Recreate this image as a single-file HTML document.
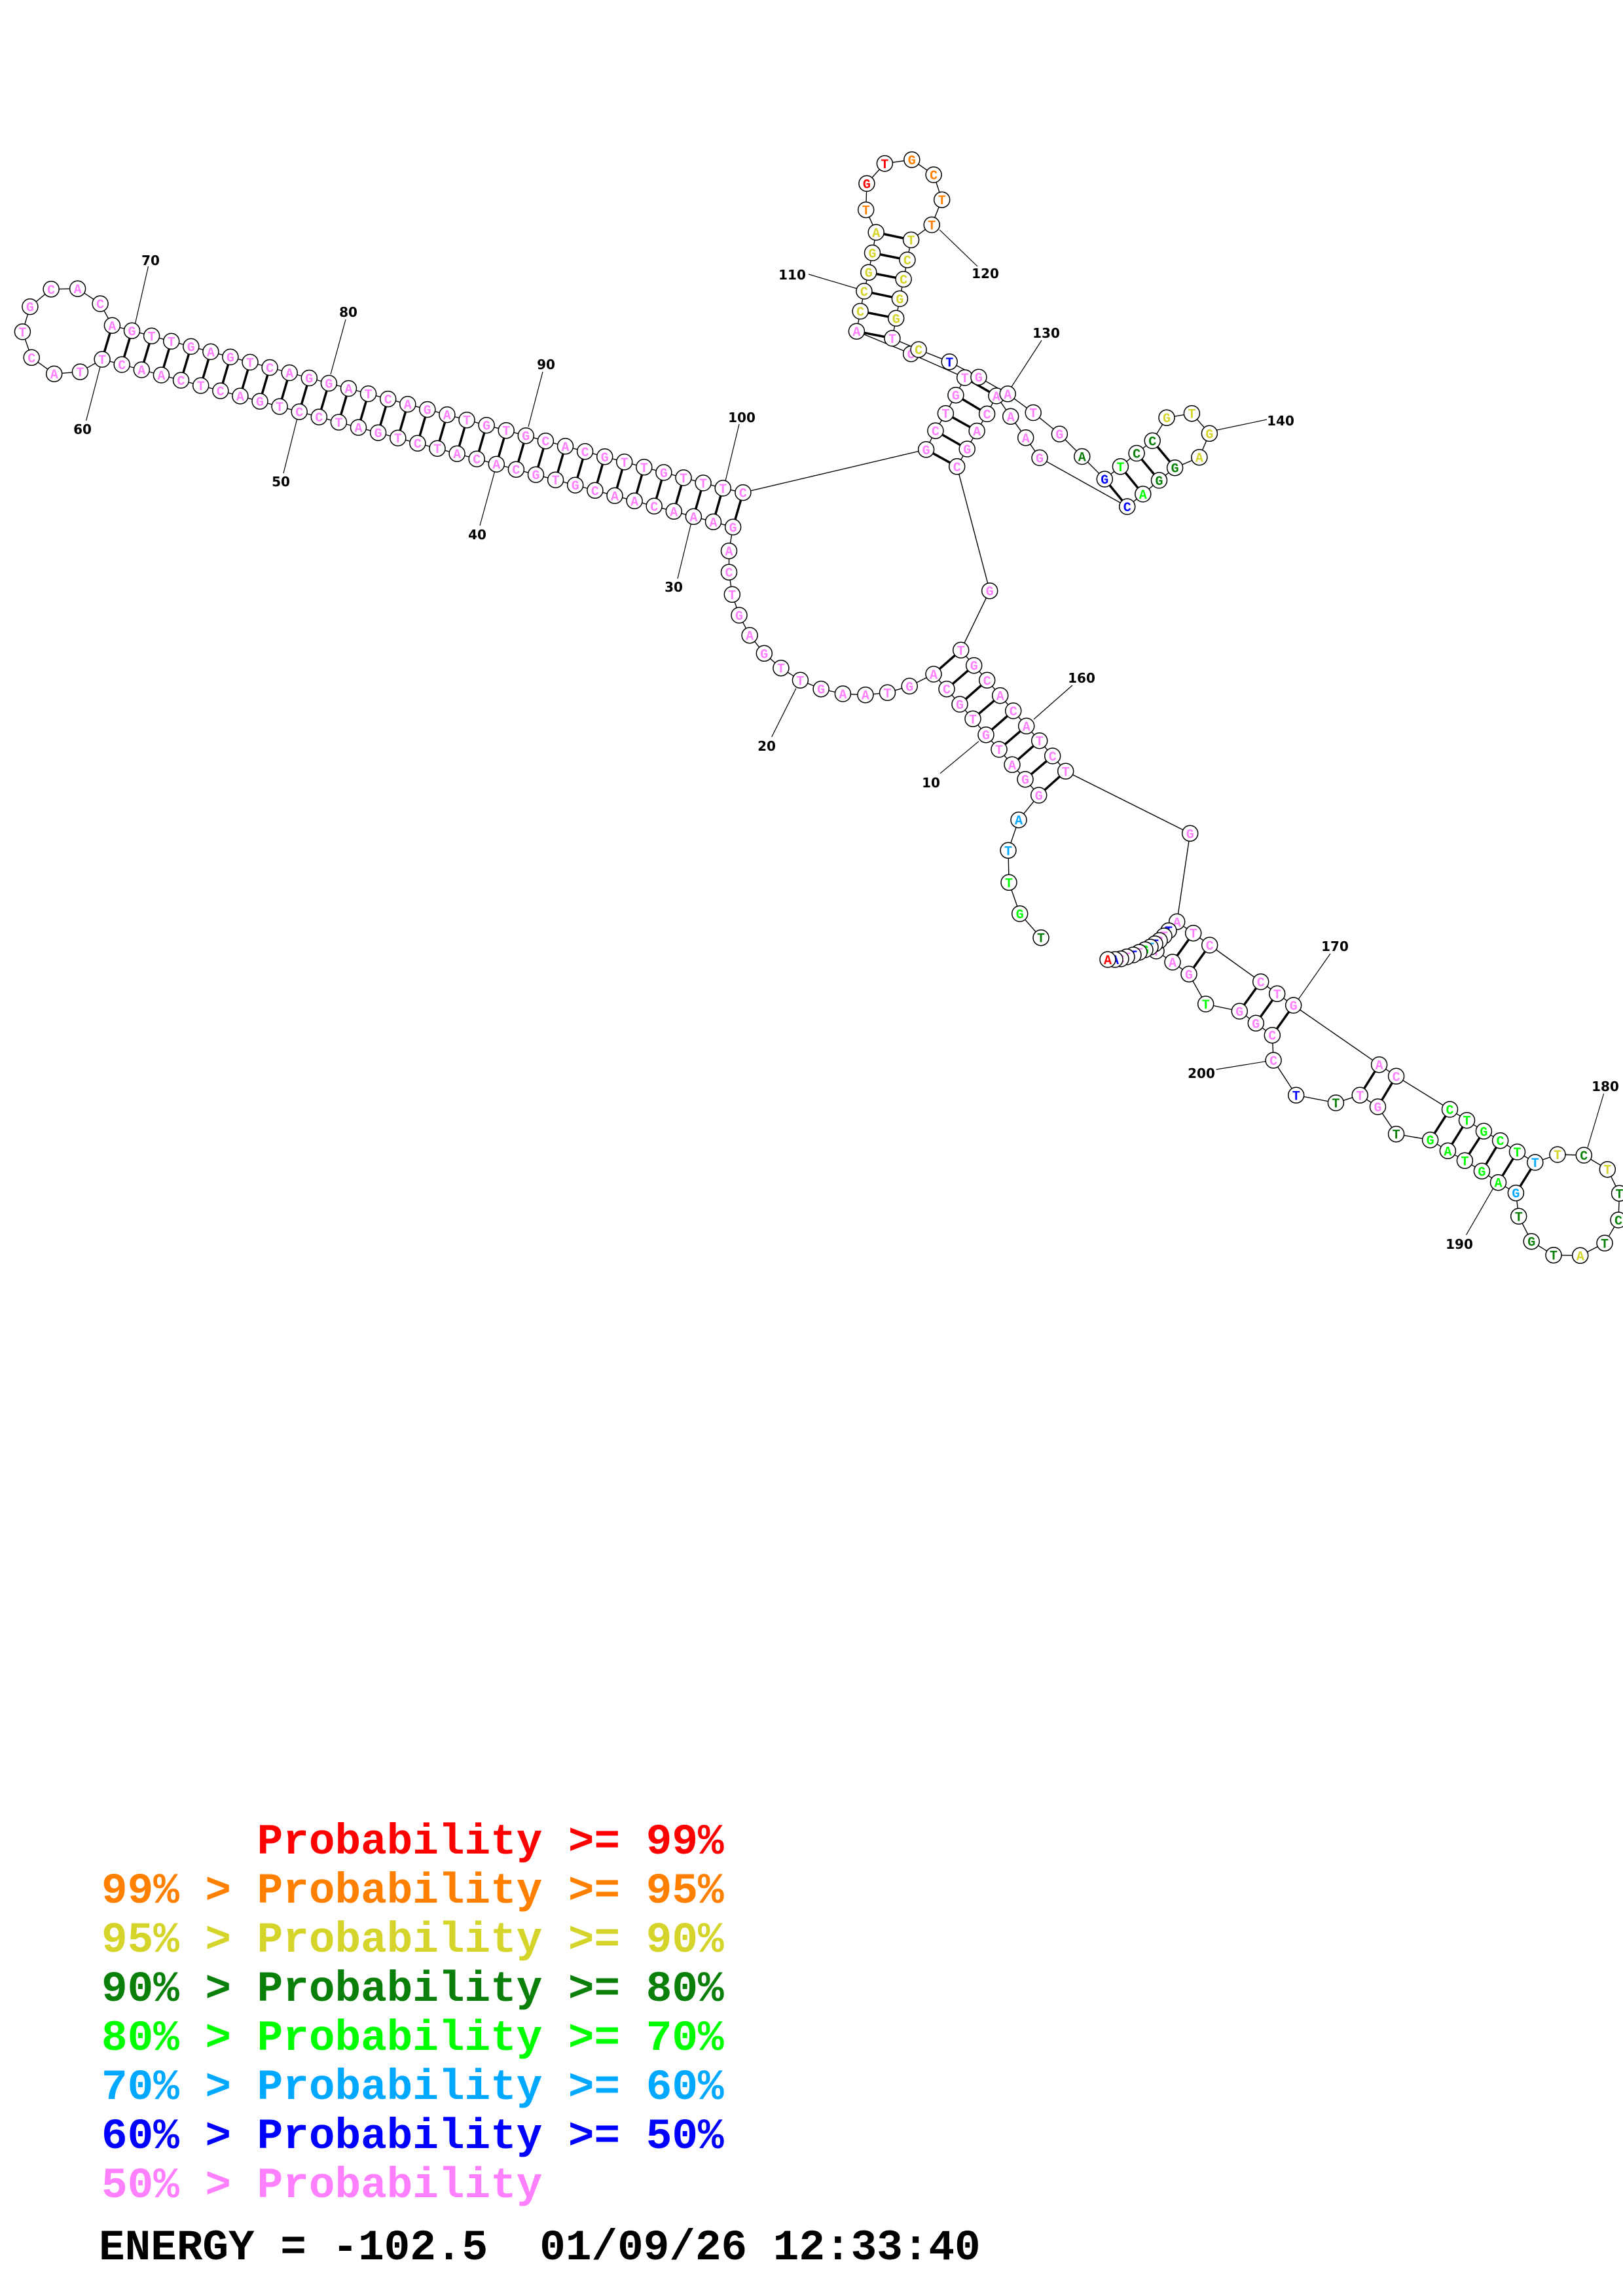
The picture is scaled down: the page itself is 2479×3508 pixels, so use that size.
<!DOCTYPE html>
<html><head><meta charset="utf-8"><style>
html,body{margin:0;padding:0;background:#fff}
svg{display:block}
.n circle{fill:#fff;stroke:#000;stroke-width:1.5}
.n text{font-family:"Liberation Mono",monospace;font-weight:bold;font-size:20px;text-anchor:middle}
.p text{fill:#ff80ff}.y text{fill:#d4d42a}.o text{fill:#ff8000}.r text{fill:#ff0000}
.g text{fill:#0a800a}.l text{fill:#00ff00}.c text{fill:#00a8ff}.b text{fill:#0000ff}
.lab{font-family:"DejaVu Sans",sans-serif;font-weight:bold;font-size:20px;text-anchor:middle}
.leg{font-family:"Liberation Mono",monospace;font-weight:bold;font-size:66px}
</style></head><body>
<svg width="2479" height="3508" viewBox="0 0 2479 3508" xmlns="http://www.w3.org/2000/svg">
<rect width="2479" height="3508" fill="#fff"/>
<polyline fill="none" stroke="#000" stroke-width="1.4" points="1590,1432.7 1557.7,1396 1541,1348.3 1540,1299.3 1556,1252.7 1586.7,1215 1566,1190.7 1546,1168.3 1526,1145 1506,1122.7 1486,1098.3 1466,1076 1446,1052.7 1426,1030 1389.2,1048.3 1355.5,1058.3 1321.9,1061.7 1287.4,1060 1254.1,1052.7 1222.4,1039.3 1192.9,1020.7 1167.3,998.3 1145.1,970.7 1129,940 1118.3,908.3 1113.5,874.2 1113.5,841.7 1119.6,805.3 1089.5,797.3 1059.4,789.3 1029.3,781.3 999.2,773.3 969.1,765.3 939,757.3 908.9,749.3 878.7,741.2 848.6,733.2 818.5,725.2 788.4,717.2 758.3,709.2 728.2,701.2 698.1,693.2 668,685.2 637.9,677.2 607.8,669.2 577.6,661.1 547.5,653.1 517.4,645.1 487.3,637.1 457.2,629.1 427.1,621.1 397,613.1 366.9,605.1 336.8,597.1 306.7,589.1 276.5,581 246.4,573 216.3,565 186.2,557 156.1,549 122.4,568.1 82.7,571.2 48.2,546.3 34.4,506.9 45.9,468.6 78.1,441.8 118.6,441.1 153.1,464 171.4,497.3 201.5,505.3 231.6,513.3 261.7,521.4 291.8,529.4 321.9,537.4 351.9,545.4 382,553.4 412.1,561.5 442.2,569.5 472.3,577.5 502.4,585.5 532.5,593.5 562.6,601.6 592.7,609.6 622.8,617.6 652.8,625.6 682.9,633.6 713,641.7 743.1,649.7 773.2,657.7 803.3,665.7 833.4,673.7 863.5,681.8 893.6,689.8 923.7,697.8 953.7,705.8 983.8,713.8 1013.9,721.9 1044,729.9 1074.1,737.9 1104.2,745.9 1134.9,752.6 1414.6,686.8 1428.9,658.1 1444.4,631.7 1459.9,603.7 1473.7,577 1391.6,540.6 1308.4,506.2 1314.1,475.5 1319.9,444.9 1326.8,416.2 1332.5,386.4 1338.2,355 1322.7,320.6 1323.9,280.4 1351.4,249.8 1392.8,244 1426.1,267 1438.7,305.2 1423.2,343.5 1391.6,366.5 1385.9,397.1 1380.1,426.6 1374.4,456.4 1368.7,486.3 1362.9,516.9 1403.1,534.1 1450.2,552.8 1494.9,576.2 1539.2,601.8 1578.2,630.5 1618.4,663.1 1652.8,697.5 1687.3,732 1711.4,712.8 1736.1,692.5 1760.2,673.4 1782,638.2 1820.4,631.7 1847.4,662.3 1831.9,698.7 1794.6,714.7 1770.5,733.9 1745.8,754.9 1721.7,774 1588,699.4 1566.7,668.8 1543.7,636.3 1521.9,604.9 1507.6,632.4 1492.1,658.5 1477.2,686 1461.7,712.8 1511.7,902.7 1467.7,993.3 1487.7,1016.7 1507.7,1039.3 1527.7,1062.7 1547.7,1086 1567.7,1109.3 1587.7,1131.7 1607.7,1155 1627.7,1178.3 1817.7,1273.3 1797.7,1408.3 1822.7,1425.7 1847.7,1444 1925.7,1500 1950.7,1518.3 1975.7,1536 2106.6,1626.7 2132.6,1644.3 2214.5,1695 2240.5,1711.7 2266.4,1728.3 2291.6,1742.7 2317.5,1760 2344.8,1776 2379,1764 2419.3,1765 2455.3,1786.7 2473.5,1823.3 2472,1864 2451,1899.3 2413.7,1918.3 2373,1917.7 2339.2,1896.7 2319.7,1858.3 2315.4,1822.7 2288.5,1806.7 2263.4,1789.3 2237.4,1773.3 2211.4,1758.3 2184.6,1741.7 2132.6,1732.7 2104.5,1691 2077.2,1673.3 2040.4,1685 1979.7,1673.3 1945.1,1620 1943.3,1581.7 1918.3,1563.3 1893.3,1545 1841.7,1534 1816,1488.3 1791,1470 1766,1453 1785,1422 1778,1430 1771,1437 1764,1442 1757,1447 1749,1451 1740,1455 1731,1459 1721,1462 1712,1465 1703,1466 1692,1466"/>
<g stroke="#000" stroke-width="3.5">
<line x1="171.4" y1="497.3" x2="156.1" y2="549"/><line x1="201.5" y1="505.3" x2="186.2" y2="557"/><line x1="231.6" y1="513.3" x2="216.3" y2="565"/><line x1="261.7" y1="521.4" x2="246.4" y2="573"/><line x1="291.8" y1="529.4" x2="276.5" y2="581"/><line x1="321.9" y1="537.4" x2="306.7" y2="589.1"/><line x1="351.9" y1="545.4" x2="336.8" y2="597.1"/><line x1="382" y1="553.4" x2="366.9" y2="605.1"/><line x1="412.1" y1="561.5" x2="397" y2="613.1"/><line x1="442.2" y1="569.5" x2="427.1" y2="621.1"/><line x1="472.3" y1="577.5" x2="457.2" y2="629.1"/><line x1="502.4" y1="585.5" x2="487.3" y2="637.1"/><line x1="532.5" y1="593.5" x2="517.4" y2="645.1"/><line x1="562.6" y1="601.6" x2="547.5" y2="653.1"/><line x1="592.7" y1="609.6" x2="577.6" y2="661.1"/><line x1="622.8" y1="617.6" x2="607.8" y2="669.2"/><line x1="652.8" y1="625.6" x2="637.9" y2="677.2"/><line x1="682.9" y1="633.6" x2="668" y2="685.2"/><line x1="713" y1="641.7" x2="698.1" y2="693.2"/><line x1="743.1" y1="649.7" x2="728.2" y2="701.2"/><line x1="773.2" y1="657.7" x2="758.3" y2="709.2"/><line x1="803.3" y1="665.7" x2="788.4" y2="717.2"/><line x1="833.4" y1="673.7" x2="818.5" y2="725.2"/><line x1="863.5" y1="681.8" x2="848.6" y2="733.2"/><line x1="893.6" y1="689.8" x2="878.7" y2="741.2"/><line x1="923.7" y1="697.8" x2="908.9" y2="749.3"/><line x1="953.7" y1="705.8" x2="939" y2="757.3"/><line x1="983.8" y1="713.8" x2="969.1" y2="765.3"/><line x1="1013.9" y1="721.9" x2="999.2" y2="773.3"/><line x1="1044" y1="729.9" x2="1029.3" y2="781.3"/><line x1="1074.1" y1="737.9" x2="1059.4" y2="789.3"/><line x1="1104.2" y1="745.9" x2="1089.5" y2="797.3"/><line x1="1134.9" y1="752.6" x2="1119.6" y2="805.3"/>
<line x1="1586.7" y1="1215" x2="1627.7" y2="1178.3"/><line x1="1566" y1="1190.7" x2="1607.7" y2="1155"/><line x1="1546" y1="1168.3" x2="1587.7" y2="1131.7"/><line x1="1526" y1="1145" x2="1567.7" y2="1109.3"/><line x1="1506" y1="1122.7" x2="1547.7" y2="1086"/><line x1="1486" y1="1098.3" x2="1527.7" y2="1062.7"/><line x1="1466" y1="1076" x2="1507.7" y2="1039.3"/><line x1="1446" y1="1052.7" x2="1487.7" y2="1016.7"/><line x1="1426" y1="1030" x2="1467.7" y2="993.3"/>
<line x1="1414.6" y1="686.8" x2="1461.7" y2="712.8"/><line x1="1428.9" y1="658.1" x2="1477.2" y2="686"/><line x1="1444.4" y1="631.7" x2="1492.1" y2="658.5"/><line x1="1459.9" y1="603.7" x2="1507.6" y2="632.4"/><line x1="1473.7" y1="577" x2="1521.9" y2="604.9"/>
<line x1="1308.4" y1="506.2" x2="1362.9" y2="516.9"/><line x1="1314.1" y1="475.5" x2="1368.7" y2="486.3"/><line x1="1319.9" y1="444.9" x2="1374.4" y2="456.4"/><line x1="1326.8" y1="416.2" x2="1380.1" y2="426.6"/><line x1="1332.5" y1="386.4" x2="1385.9" y2="397.1"/><line x1="1338.2" y1="355" x2="1391.6" y2="366.5"/>
<line x1="1687.3" y1="732" x2="1721.7" y2="774"/><line x1="1711.4" y1="712.8" x2="1745.8" y2="754.9"/><line x1="1736.1" y1="692.5" x2="1770.5" y2="733.9"/><line x1="1760.2" y1="673.4" x2="1794.6" y2="714.7"/>
<line x1="1822.7" y1="1425.7" x2="1791" y2="1470"/><line x1="1847.7" y1="1444" x2="1816" y2="1488.3"/><line x1="1925.7" y1="1500" x2="1893.3" y2="1545"/><line x1="1950.7" y1="1518.3" x2="1918.3" y2="1563.3"/><line x1="1975.7" y1="1536" x2="1943.3" y2="1581.7"/><line x1="2106.6" y1="1626.7" x2="2077.2" y2="1673.3"/><line x1="2132.6" y1="1644.3" x2="2104.5" y2="1691"/><line x1="2214.5" y1="1695" x2="2184.6" y2="1741.7"/><line x1="2240.5" y1="1711.7" x2="2211.4" y2="1758.3"/><line x1="2266.4" y1="1728.3" x2="2237.4" y2="1773.3"/><line x1="2291.6" y1="1742.7" x2="2263.4" y2="1789.3"/><line x1="2317.5" y1="1760" x2="2288.5" y2="1806.7"/><line x1="2344.8" y1="1776" x2="2315.4" y2="1822.7"/>
</g>
<g stroke="#000" stroke-width="1.2">
<line x1="226.5" y1="407" x2="205" y2="501"/><line x1="131.6" y1="642.7" x2="153" y2="560.5"/><line x1="528" y1="488" x2="505" y2="572"/><line x1="433" y1="723" x2="454" y2="639"/><line x1="829" y1="568" x2="807" y2="652"/><line x1="733" y1="803" x2="756" y2="719"/><line x1="1129" y1="648" x2="1108" y2="735"/><line x1="1035" y1="884" x2="1056" y2="798"/>
<line x1="1235" y1="419" x2="1309" y2="441"/><line x1="1435" y1="351" x2="1493" y2="407"/><line x1="1591" y1="520" x2="1545" y2="591"/><line x1="1859" y1="657" x2="1935" y2="641"/>
<line x1="1178.7" y1="1126" x2="1215.9" y2="1051.7"/><line x1="1436" y1="1181.7" x2="1495" y2="1132.7"/><line x1="1638" y1="1047" x2="1579" y2="1099"/>
<line x1="2032" y1="1457" x2="1983" y2="1527"/><line x1="1857.6" y1="1634" x2="1933.4" y2="1621.7"/><line x1="2449.6" y1="1671" x2="2425" y2="1753"/><line x1="2239.6" y1="1886.7" x2="2282" y2="1813.3"/>
</g>
<g class="lab">
<text x="230" y="405">70</text><text x="126" y="663">60</text><text x="532" y="484">80</text><text x="429" y="743">50</text><text x="834" y="564">90</text><text x="729" y="824">40</text><text x="1133" y="645">100</text><text x="1029" y="904">30</text>
<text x="1210" y="427">110</text><text x="1505" y="425">120</text><text x="1598" y="516">130</text><text x="1956" y="650">140</text>
<text x="1171" y="1147">20</text><text x="1422" y="1203">10</text><text x="1652" y="1043">160</text>
<text x="2039" y="1453">170</text><text x="1835" y="1647">200</text><text x="2452" y="1667">180</text><text x="2229" y="1908">190</text>
</g>
<g class="n">
<g class="g" transform="translate(1590 1432.7)"><circle r="12"/><text y="7">T</text></g>
<g class="l" transform="translate(1557.7 1396)"><circle r="12"/><text y="7">G</text></g>
<g class="l" transform="translate(1541 1348.3)"><circle r="12"/><text y="7">T</text></g>
<g class="c" transform="translate(1540 1299.3)"><circle r="12"/><text y="7">T</text></g>
<g class="c" transform="translate(1556 1252.7)"><circle r="12"/><text y="7">A</text></g>
<g class="p" transform="translate(1586.7 1215)"><circle r="12"/><text y="7">G</text></g>
<g class="p" transform="translate(1566 1190.7)"><circle r="12"/><text y="7">G</text></g>
<g class="p" transform="translate(1546 1168.3)"><circle r="12"/><text y="7">A</text></g>
<g class="p" transform="translate(1526 1145)"><circle r="12"/><text y="7">T</text></g>
<g class="p" transform="translate(1506 1122.7)"><circle r="12"/><text y="7">G</text></g>
<g class="p" transform="translate(1486 1098.3)"><circle r="12"/><text y="7">T</text></g>
<g class="p" transform="translate(1466 1076)"><circle r="12"/><text y="7">G</text></g>
<g class="p" transform="translate(1446 1052.7)"><circle r="12"/><text y="7">C</text></g>
<g class="p" transform="translate(1426 1030)"><circle r="12"/><text y="7">A</text></g>
<g class="p" transform="translate(1389.2 1048.3)"><circle r="12"/><text y="7">G</text></g>
<g class="p" transform="translate(1355.5 1058.3)"><circle r="12"/><text y="7">T</text></g>
<g class="p" transform="translate(1321.9 1061.7)"><circle r="12"/><text y="7">A</text></g>
<g class="p" transform="translate(1287.4 1060)"><circle r="12"/><text y="7">A</text></g>
<g class="p" transform="translate(1254.1 1052.7)"><circle r="12"/><text y="7">G</text></g>
<g class="p" transform="translate(1222.4 1039.3)"><circle r="12"/><text y="7">T</text></g>
<g class="p" transform="translate(1192.9 1020.7)"><circle r="12"/><text y="7">T</text></g>
<g class="p" transform="translate(1167.3 998.3)"><circle r="12"/><text y="7">G</text></g>
<g class="p" transform="translate(1145.1 970.7)"><circle r="12"/><text y="7">A</text></g>
<g class="p" transform="translate(1129 940)"><circle r="12"/><text y="7">G</text></g>
<g class="p" transform="translate(1118.3 908.3)"><circle r="12"/><text y="7">T</text></g>
<g class="p" transform="translate(1113.5 874.2)"><circle r="12"/><text y="7">C</text></g>
<g class="p" transform="translate(1113.5 841.7)"><circle r="12"/><text y="7">A</text></g>
<g class="p" transform="translate(1119.6 805.3)"><circle r="12"/><text y="7">G</text></g>
<g class="p" transform="translate(1089.5 797.3)"><circle r="12"/><text y="7">A</text></g>
<g class="p" transform="translate(1059.4 789.3)"><circle r="12"/><text y="7">A</text></g>
<g class="p" transform="translate(1029.3 781.3)"><circle r="12"/><text y="7">A</text></g>
<g class="p" transform="translate(999.2 773.3)"><circle r="12"/><text y="7">C</text></g>
<g class="p" transform="translate(969.1 765.3)"><circle r="12"/><text y="7">A</text></g>
<g class="p" transform="translate(939 757.3)"><circle r="12"/><text y="7">A</text></g>
<g class="p" transform="translate(908.9 749.3)"><circle r="12"/><text y="7">C</text></g>
<g class="p" transform="translate(878.7 741.2)"><circle r="12"/><text y="7">G</text></g>
<g class="p" transform="translate(848.6 733.2)"><circle r="12"/><text y="7">T</text></g>
<g class="p" transform="translate(818.5 725.2)"><circle r="12"/><text y="7">G</text></g>
<g class="p" transform="translate(788.4 717.2)"><circle r="12"/><text y="7">C</text></g>
<g class="p" transform="translate(758.3 709.2)"><circle r="12"/><text y="7">A</text></g>
<g class="p" transform="translate(728.2 701.2)"><circle r="12"/><text y="7">C</text></g>
<g class="p" transform="translate(698.1 693.2)"><circle r="12"/><text y="7">A</text></g>
<g class="p" transform="translate(668 685.2)"><circle r="12"/><text y="7">T</text></g>
<g class="p" transform="translate(637.9 677.2)"><circle r="12"/><text y="7">C</text></g>
<g class="p" transform="translate(607.8 669.2)"><circle r="12"/><text y="7">T</text></g>
<g class="p" transform="translate(577.6 661.1)"><circle r="12"/><text y="7">G</text></g>
<g class="p" transform="translate(547.5 653.1)"><circle r="12"/><text y="7">A</text></g>
<g class="p" transform="translate(517.4 645.1)"><circle r="12"/><text y="7">T</text></g>
<g class="p" transform="translate(487.3 637.1)"><circle r="12"/><text y="7">C</text></g>
<g class="p" transform="translate(457.2 629.1)"><circle r="12"/><text y="7">C</text></g>
<g class="p" transform="translate(427.1 621.1)"><circle r="12"/><text y="7">T</text></g>
<g class="p" transform="translate(397 613.1)"><circle r="12"/><text y="7">G</text></g>
<g class="p" transform="translate(366.9 605.1)"><circle r="12"/><text y="7">A</text></g>
<g class="p" transform="translate(336.8 597.1)"><circle r="12"/><text y="7">C</text></g>
<g class="p" transform="translate(306.7 589.1)"><circle r="12"/><text y="7">T</text></g>
<g class="p" transform="translate(276.5 581)"><circle r="12"/><text y="7">C</text></g>
<g class="p" transform="translate(246.4 573)"><circle r="12"/><text y="7">A</text></g>
<g class="p" transform="translate(216.3 565)"><circle r="12"/><text y="7">A</text></g>
<g class="p" transform="translate(186.2 557)"><circle r="12"/><text y="7">C</text></g>
<g class="p" transform="translate(156.1 549)"><circle r="12"/><text y="7">T</text></g>
<g class="p" transform="translate(122.4 568.1)"><circle r="12"/><text y="7">T</text></g>
<g class="p" transform="translate(82.7 571.2)"><circle r="12"/><text y="7">A</text></g>
<g class="p" transform="translate(48.2 546.3)"><circle r="12"/><text y="7">C</text></g>
<g class="p" transform="translate(34.4 506.9)"><circle r="12"/><text y="7">T</text></g>
<g class="p" transform="translate(45.9 468.6)"><circle r="12"/><text y="7">G</text></g>
<g class="p" transform="translate(78.1 441.8)"><circle r="12"/><text y="7">C</text></g>
<g class="p" transform="translate(118.6 441.1)"><circle r="12"/><text y="7">A</text></g>
<g class="p" transform="translate(153.1 464)"><circle r="12"/><text y="7">C</text></g>
<g class="p" transform="translate(171.4 497.3)"><circle r="12"/><text y="7">A</text></g>
<g class="p" transform="translate(201.5 505.3)"><circle r="12"/><text y="7">G</text></g>
<g class="p" transform="translate(231.6 513.3)"><circle r="12"/><text y="7">T</text></g>
<g class="p" transform="translate(261.7 521.4)"><circle r="12"/><text y="7">T</text></g>
<g class="p" transform="translate(291.8 529.4)"><circle r="12"/><text y="7">G</text></g>
<g class="p" transform="translate(321.9 537.4)"><circle r="12"/><text y="7">A</text></g>
<g class="p" transform="translate(351.9 545.4)"><circle r="12"/><text y="7">G</text></g>
<g class="p" transform="translate(382 553.4)"><circle r="12"/><text y="7">T</text></g>
<g class="p" transform="translate(412.1 561.5)"><circle r="12"/><text y="7">C</text></g>
<g class="p" transform="translate(442.2 569.5)"><circle r="12"/><text y="7">A</text></g>
<g class="p" transform="translate(472.3 577.5)"><circle r="12"/><text y="7">G</text></g>
<g class="p" transform="translate(502.4 585.5)"><circle r="12"/><text y="7">G</text></g>
<g class="p" transform="translate(532.5 593.5)"><circle r="12"/><text y="7">A</text></g>
<g class="p" transform="translate(562.6 601.6)"><circle r="12"/><text y="7">T</text></g>
<g class="p" transform="translate(592.7 609.6)"><circle r="12"/><text y="7">C</text></g>
<g class="p" transform="translate(622.8 617.6)"><circle r="12"/><text y="7">A</text></g>
<g class="p" transform="translate(652.8 625.6)"><circle r="12"/><text y="7">G</text></g>
<g class="p" transform="translate(682.9 633.6)"><circle r="12"/><text y="7">A</text></g>
<g class="p" transform="translate(713 641.7)"><circle r="12"/><text y="7">T</text></g>
<g class="p" transform="translate(743.1 649.7)"><circle r="12"/><text y="7">G</text></g>
<g class="p" transform="translate(773.2 657.7)"><circle r="12"/><text y="7">T</text></g>
<g class="p" transform="translate(803.3 665.7)"><circle r="12"/><text y="7">G</text></g>
<g class="p" transform="translate(833.4 673.7)"><circle r="12"/><text y="7">C</text></g>
<g class="p" transform="translate(863.5 681.8)"><circle r="12"/><text y="7">A</text></g>
<g class="p" transform="translate(893.6 689.8)"><circle r="12"/><text y="7">C</text></g>
<g class="p" transform="translate(923.7 697.8)"><circle r="12"/><text y="7">G</text></g>
<g class="p" transform="translate(953.7 705.8)"><circle r="12"/><text y="7">T</text></g>
<g class="p" transform="translate(983.8 713.8)"><circle r="12"/><text y="7">T</text></g>
<g class="p" transform="translate(1013.9 721.9)"><circle r="12"/><text y="7">G</text></g>
<g class="p" transform="translate(1044 729.9)"><circle r="12"/><text y="7">T</text></g>
<g class="p" transform="translate(1074.1 737.9)"><circle r="12"/><text y="7">T</text></g>
<g class="p" transform="translate(1104.2 745.9)"><circle r="12"/><text y="7">T</text></g>
<g class="p" transform="translate(1134.9 752.6)"><circle r="12"/><text y="7">C</text></g>
<g class="p" transform="translate(1414.6 686.8)"><circle r="12"/><text y="7">G</text></g>
<g class="p" transform="translate(1428.9 658.1)"><circle r="12"/><text y="7">C</text></g>
<g class="p" transform="translate(1444.4 631.7)"><circle r="12"/><text y="7">T</text></g>
<g class="p" transform="translate(1459.9 603.7)"><circle r="12"/><text y="7">G</text></g>
<g class="p" transform="translate(1473.7 577)"><circle r="12"/><text y="7">T</text></g>
<g class="p" transform="translate(1391.6 540.6)"><circle r="12"/><text y="7">C</text></g>
<g class="p" transform="translate(1308.4 506.2)"><circle r="12"/><text y="7">A</text></g>
<g class="y" transform="translate(1314.1 475.5)"><circle r="12"/><text y="7">C</text></g>
<g class="y" transform="translate(1319.9 444.9)"><circle r="12"/><text y="7">C</text></g>
<g class="y" transform="translate(1326.8 416.2)"><circle r="12"/><text y="7">G</text></g>
<g class="y" transform="translate(1332.5 386.4)"><circle r="12"/><text y="7">G</text></g>
<g class="y" transform="translate(1338.2 355)"><circle r="12"/><text y="7">A</text></g>
<g class="o" transform="translate(1322.7 320.6)"><circle r="12"/><text y="7">T</text></g>
<g class="r" transform="translate(1323.9 280.4)"><circle r="12"/><text y="7">G</text></g>
<g class="r" transform="translate(1351.4 249.8)"><circle r="12"/><text y="7">T</text></g>
<g class="o" transform="translate(1392.8 244)"><circle r="12"/><text y="7">G</text></g>
<g class="o" transform="translate(1426.1 267)"><circle r="12"/><text y="7">C</text></g>
<g class="o" transform="translate(1438.7 305.2)"><circle r="12"/><text y="7">T</text></g>
<g class="o" transform="translate(1423.2 343.5)"><circle r="12"/><text y="7">T</text></g>
<g class="y" transform="translate(1391.6 366.5)"><circle r="12"/><text y="7">T</text></g>
<g class="y" transform="translate(1385.9 397.1)"><circle r="12"/><text y="7">C</text></g>
<g class="y" transform="translate(1380.1 426.6)"><circle r="12"/><text y="7">C</text></g>
<g class="y" transform="translate(1374.4 456.4)"><circle r="12"/><text y="7">G</text></g>
<g class="y" transform="translate(1368.7 486.3)"><circle r="12"/><text y="7">G</text></g>
<g class="p" transform="translate(1362.9 516.9)"><circle r="12"/><text y="7">T</text></g>
<g class="y" transform="translate(1403.1 534.1)"><circle r="12"/><text y="7">C</text></g>
<g class="b" transform="translate(1450.2 552.8)"><circle r="12"/><text y="7">T</text></g>
<g class="p" transform="translate(1494.9 576.2)"><circle r="12"/><text y="7">G</text></g>
<g class="p" transform="translate(1578.2 630.5)"><circle r="12"/><text y="7">T</text></g>
<g class="p" transform="translate(1618.4 663.1)"><circle r="12"/><text y="7">G</text></g>
<g class="g" transform="translate(1652.8 697.5)"><circle r="12"/><text y="7">A</text></g>
<g class="b" transform="translate(1687.3 732)"><circle r="12"/><text y="7">G</text></g>
<g class="l" transform="translate(1711.4 712.8)"><circle r="12"/><text y="7">T</text></g>
<g class="g" transform="translate(1736.1 692.5)"><circle r="12"/><text y="7">C</text></g>
<g class="g" transform="translate(1760.2 673.4)"><circle r="12"/><text y="7">C</text></g>
<g class="y" transform="translate(1782 638.2)"><circle r="12"/><text y="7">G</text></g>
<g class="y" transform="translate(1820.4 631.7)"><circle r="12"/><text y="7">T</text></g>
<g class="y" transform="translate(1847.4 662.3)"><circle r="12"/><text y="7">G</text></g>
<g class="y" transform="translate(1831.9 698.7)"><circle r="12"/><text y="7">A</text></g>
<g class="g" transform="translate(1794.6 714.7)"><circle r="12"/><text y="7">G</text></g>
<g class="g" transform="translate(1770.5 733.9)"><circle r="12"/><text y="7">G</text></g>
<g class="l" transform="translate(1745.8 754.9)"><circle r="12"/><text y="7">A</text></g>
<g class="b" transform="translate(1721.7 774)"><circle r="12"/><text y="7">C</text></g>
<g class="p" transform="translate(1588 699.4)"><circle r="12"/><text y="7">G</text></g>
<g class="p" transform="translate(1566.7 668.8)"><circle r="12"/><text y="7">A</text></g>
<g class="p" transform="translate(1543.7 636.3)"><circle r="12"/><text y="7">A</text></g>
<g class="p" transform="translate(1521.9 604.9)"><circle r="12"/><text y="7">A</text></g>
<g class="p" transform="translate(1539.2 601.8)"><circle r="12"/><text y="7">A</text></g>
<g class="p" transform="translate(1507.6 632.4)"><circle r="12"/><text y="7">C</text></g>
<g class="p" transform="translate(1492.1 658.5)"><circle r="12"/><text y="7">A</text></g>
<g class="p" transform="translate(1477.2 686)"><circle r="12"/><text y="7">G</text></g>
<g class="p" transform="translate(1461.7 712.8)"><circle r="12"/><text y="7">C</text></g>
<g class="p" transform="translate(1511.7 902.7)"><circle r="12"/><text y="7">G</text></g>
<g class="p" transform="translate(1467.7 993.3)"><circle r="12"/><text y="7">T</text></g>
<g class="p" transform="translate(1487.7 1016.7)"><circle r="12"/><text y="7">G</text></g>
<g class="p" transform="translate(1507.7 1039.3)"><circle r="12"/><text y="7">C</text></g>
<g class="p" transform="translate(1527.7 1062.7)"><circle r="12"/><text y="7">A</text></g>
<g class="p" transform="translate(1547.7 1086)"><circle r="12"/><text y="7">C</text></g>
<g class="p" transform="translate(1567.7 1109.3)"><circle r="12"/><text y="7">A</text></g>
<g class="p" transform="translate(1587.7 1131.7)"><circle r="12"/><text y="7">T</text></g>
<g class="p" transform="translate(1607.7 1155)"><circle r="12"/><text y="7">C</text></g>
<g class="p" transform="translate(1627.7 1178.3)"><circle r="12"/><text y="7">T</text></g>
<g class="p" transform="translate(1817.7 1273.3)"><circle r="12"/><text y="7">G</text></g>
<g class="p" transform="translate(1797.7 1408.3)"><circle r="12"/><text y="7">A</text></g>
<g class="p" transform="translate(1822.7 1425.7)"><circle r="12"/><text y="7">T</text></g>
<g class="p" transform="translate(1847.7 1444)"><circle r="12"/><text y="7">C</text></g>
<g class="p" transform="translate(1925.7 1500)"><circle r="12"/><text y="7">C</text></g>
<g class="p" transform="translate(1950.7 1518.3)"><circle r="12"/><text y="7">T</text></g>
<g class="p" transform="translate(1975.7 1536)"><circle r="12"/><text y="7">G</text></g>
<g class="p" transform="translate(2106.6 1626.7)"><circle r="12"/><text y="7">A</text></g>
<g class="p" transform="translate(2132.6 1644.3)"><circle r="12"/><text y="7">C</text></g>
<g class="l" transform="translate(2214.5 1695)"><circle r="12"/><text y="7">C</text></g>
<g class="l" transform="translate(2240.5 1711.7)"><circle r="12"/><text y="7">T</text></g>
<g class="l" transform="translate(2266.4 1728.3)"><circle r="12"/><text y="7">G</text></g>
<g class="l" transform="translate(2291.6 1742.7)"><circle r="12"/><text y="7">C</text></g>
<g class="l" transform="translate(2317.5 1760)"><circle r="12"/><text y="7">T</text></g>
<g class="c" transform="translate(2344.8 1776)"><circle r="12"/><text y="7">T</text></g>
<g class="y" transform="translate(2379 1764)"><circle r="12"/><text y="7">T</text></g>
<g class="g" transform="translate(2419.3 1765)"><circle r="12"/><text y="7">C</text></g>
<g class="y" transform="translate(2455.3 1786.7)"><circle r="12"/><text y="7">T</text></g>
<g class="g" transform="translate(2473.5 1823.3)"><circle r="12"/><text y="7">T</text></g>
<g class="g" transform="translate(2472 1864)"><circle r="12"/><text y="7">C</text></g>
<g class="g" transform="translate(2451 1899.3)"><circle r="12"/><text y="7">T</text></g>
<g class="y" transform="translate(2413.7 1918.3)"><circle r="12"/><text y="7">A</text></g>
<g class="g" transform="translate(2373 1917.7)"><circle r="12"/><text y="7">T</text></g>
<g class="g" transform="translate(2339.2 1896.7)"><circle r="12"/><text y="7">G</text></g>
<g class="g" transform="translate(2319.7 1858.3)"><circle r="12"/><text y="7">T</text></g>
<g class="c" transform="translate(2315.4 1822.7)"><circle r="12"/><text y="7">G</text></g>
<g class="l" transform="translate(2288.5 1806.7)"><circle r="12"/><text y="7">A</text></g>
<g class="l" transform="translate(2263.4 1789.3)"><circle r="12"/><text y="7">G</text></g>
<g class="l" transform="translate(2237.4 1773.3)"><circle r="12"/><text y="7">T</text></g>
<g class="l" transform="translate(2211.4 1758.3)"><circle r="12"/><text y="7">A</text></g>
<g class="l" transform="translate(2184.6 1741.7)"><circle r="12"/><text y="7">G</text></g>
<g class="g" transform="translate(2132.6 1732.7)"><circle r="12"/><text y="7">T</text></g>
<g class="p" transform="translate(2104.5 1691)"><circle r="12"/><text y="7">G</text></g>
<g class="p" transform="translate(2077.2 1673.3)"><circle r="12"/><text y="7">T</text></g>
<g class="g" transform="translate(2040.4 1685)"><circle r="12"/><text y="7">T</text></g>
<g class="b" transform="translate(1979.7 1673.3)"><circle r="12"/><text y="7">T</text></g>
<g class="p" transform="translate(1945.1 1620)"><circle r="12"/><text y="7">C</text></g>
<g class="p" transform="translate(1943.3 1581.7)"><circle r="12"/><text y="7">C</text></g>
<g class="p" transform="translate(1918.3 1563.3)"><circle r="12"/><text y="7">G</text></g>
<g class="p" transform="translate(1893.3 1545)"><circle r="12"/><text y="7">G</text></g>
<g class="l" transform="translate(1841.7 1534)"><circle r="12"/><text y="7">T</text></g>
<g class="p" transform="translate(1816 1488.3)"><circle r="12"/><text y="7">G</text></g>
<g class="p" transform="translate(1791 1470)"><circle r="12"/><text y="7">A</text></g>
<g class="p" transform="translate(1766 1453)"><circle r="12"/><text y="7">T</text></g>
<g class="b" transform="translate(1785 1422)"><circle r="12"/><text y="7">T</text></g>
<g class="p" transform="translate(1778 1430)"><circle r="12"/><text y="7">T</text></g>
<g class="p" transform="translate(1771 1437)"><circle r="12"/><text y="7">C</text></g>
<g class="b" transform="translate(1764 1442)"><circle r="12"/><text y="7">T</text></g>
<g class="c" transform="translate(1757 1447)"><circle r="12"/><text y="7">T</text></g>
<g class="l" transform="translate(1749 1451)"><circle r="12"/><text y="7">G</text></g>
<g class="p" transform="translate(1740 1455)"><circle r="12"/><text y="7">T</text></g>
<g class="b" transform="translate(1731 1459)"><circle r="12"/><text y="7">T</text></g>
<g class="p" transform="translate(1721 1462)"><circle r="12"/><text y="7">T</text></g>
<g class="p" transform="translate(1712 1465)"><circle r="12"/><text y="7">C</text></g>
<g class="b" transform="translate(1703 1466)"><circle r="12"/><text y="7">A</text></g>
<g class="r" transform="translate(1692 1466)"><circle r="12"/><text y="7">A</text></g>
</g>
<g class="leg">
<text x="155" y="2832" fill="#ff0000">&#160;&#160;&#160;&#160;&#160;&#160;Probability&#160;&gt;=&#160;99%</text>
<text x="155" y="2907" fill="#ff8000">99%&#160;&gt;&#160;Probability&#160;&gt;=&#160;95%</text>
<text x="155" y="2982" fill="#d4d42a">95%&#160;&gt;&#160;Probability&#160;&gt;=&#160;90%</text>
<text x="155" y="3057" fill="#0a800a">90%&#160;&gt;&#160;Probability&#160;&gt;=&#160;80%</text>
<text x="155" y="3132" fill="#00ff00">80%&#160;&gt;&#160;Probability&#160;&gt;=&#160;70%</text>
<text x="155" y="3207" fill="#00a8ff">70%&#160;&gt;&#160;Probability&#160;&gt;=&#160;60%</text>
<text x="155" y="3282" fill="#0000ff">60%&#160;&gt;&#160;Probability&#160;&gt;=&#160;50%</text>
<text x="155" y="3357" fill="#ff80ff">50%&#160;&gt;&#160;Probability</text>
<text x="151" y="3452" fill="#000">ENERGY&#160;=&#160;-102.5&#160;&#160;01/09/26&#160;12:33:40</text>
</g>
</svg>
</body></html>
